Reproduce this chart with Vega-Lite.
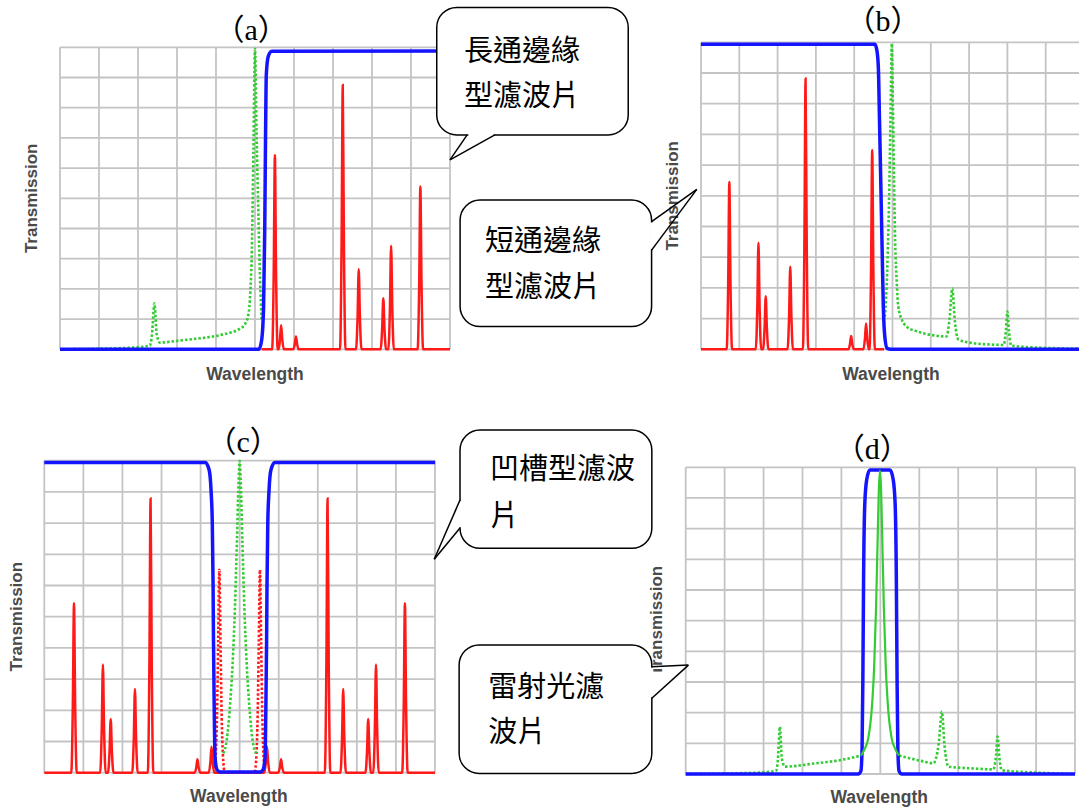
{
  "$schema": "https://vega.github.io/schema/vega-lite/v6.json",
  "width": 1079,
  "height": 810,
  "autosize": {"type": "none"},
  "padding": 0,
  "background": "white",
  "config": {"view": {"stroke": null}, "axis": {"disable": true}},
  "datasets": {
    "grid": [{"v":0},{"v":1},{"v":2},{"v":3},{"v":4},{"v":5},{"v":6},{"v":7},{"v":8},{"v":9},{"v":10}],
    "spectra": [
      {"p":"a","s":"filter","x":0,"y":0},{"p":"a","s":"filter","x":5.1,"y":0},{"p":"a","s":"filter","x":5.17,"y":0.3},{"p":"a","s":"filter","x":5.22,"y":1.4},{"p":"a","s":"filter","x":5.25,"y":4},{"p":"a","s":"filter","x":5.27,"y":7},{"p":"a","s":"filter","x":5.29,"y":9.1},{"p":"a","s":"filter","x":5.34,"y":9.7},{"p":"a","s":"filter","x":5.43,"y":9.87},{"p":"a","s":"filter","x":10,"y":9.88},

      {"p":"a","s":"spectrum","x":0,"y":0},{"p":"a","s":"spectrum","x":1,"y":0.02},{"p":"a","s":"spectrum","x":2,"y":0.07},{"p":"a","s":"spectrum","x":2.3,"y":0.12},{"p":"a","s":"spectrum","x":2.36,"y":0.5},{"p":"a","s":"spectrum","x":2.42,"y":1.52},{"p":"a","s":"spectrum","x":2.48,"y":0.5},{"p":"a","s":"spectrum","x":2.56,"y":0.22},{"p":"a","s":"spectrum","x":3,"y":0.28},{"p":"a","s":"spectrum","x":3.42,"y":0.34},{"p":"a","s":"spectrum","x":4.1,"y":0.47},{"p":"a","s":"spectrum","x":4.62,"y":0.69},{"p":"a","s":"spectrum","x":4.75,"y":0.85},{"p":"a","s":"spectrum","x":4.83,"y":1.14},{"p":"a","s":"spectrum","x":4.88,"y":1.9},{"p":"a","s":"spectrum","x":4.92,"y":3.3},{"p":"a","s":"spectrum","x":4.96,"y":6.6},{"p":"a","s":"spectrum","x":5,"y":9.95},{"p":"a","s":"spectrum","x":5.04,"y":7.2},{"p":"a","s":"spectrum","x":5.09,"y":4.3},{"p":"a","s":"spectrum","x":5.13,"y":2.3},{"p":"a","s":"spectrum","x":5.17,"y":1},

      {"p":"a","s":"raman","x":5.17,"y":0},
      {"p":"a","s":"raman","x":5.44,"y":0},{"p":"a","s":"raman","x":5.48,"y":2.57},{"p":"a","s":"raman","x":5.51,"y":6.43},{"p":"a","s":"raman","x":5.54,"y":2.57},{"p":"a","s":"raman","x":5.58,"y":0},
      {"p":"a","s":"raman","x":5.61,"y":0},{"p":"a","s":"raman","x":5.64,"y":0.32},{"p":"a","s":"raman","x":5.67,"y":0.8},{"p":"a","s":"raman","x":5.7,"y":0.32},{"p":"a","s":"raman","x":5.74,"y":0},
      {"p":"a","s":"raman","x":5.98,"y":0},{"p":"a","s":"raman","x":6.02,"y":0.17},{"p":"a","s":"raman","x":6.05,"y":0.42},{"p":"a","s":"raman","x":6.08,"y":0.17},{"p":"a","s":"raman","x":6.12,"y":0},
      {"p":"a","s":"raman","x":7.18,"y":0},{"p":"a","s":"raman","x":7.22,"y":3.5},{"p":"a","s":"raman","x":7.25,"y":8.75},{"p":"a","s":"raman","x":7.28,"y":3.5},{"p":"a","s":"raman","x":7.32,"y":0},
      {"p":"a","s":"raman","x":7.59,"y":0},{"p":"a","s":"raman","x":7.63,"y":1.06},{"p":"a","s":"raman","x":7.66,"y":2.65},{"p":"a","s":"raman","x":7.69,"y":1.06},{"p":"a","s":"raman","x":7.73,"y":0},
      {"p":"a","s":"raman","x":8.22,"y":0},{"p":"a","s":"raman","x":8.26,"y":0.68},{"p":"a","s":"raman","x":8.29,"y":1.69},{"p":"a","s":"raman","x":8.32,"y":0.68},{"p":"a","s":"raman","x":8.36,"y":0},
      {"p":"a","s":"raman","x":8.42,"y":0},{"p":"a","s":"raman","x":8.46,"y":1.38},{"p":"a","s":"raman","x":8.49,"y":3.43},{"p":"a","s":"raman","x":8.52,"y":1.38},{"p":"a","s":"raman","x":8.56,"y":0},
      {"p":"a","s":"raman","x":9.17,"y":0},{"p":"a","s":"raman","x":9.21,"y":2.16},{"p":"a","s":"raman","x":9.24,"y":5.39},{"p":"a","s":"raman","x":9.27,"y":2.16},{"p":"a","s":"raman","x":9.31,"y":0},
      {"p":"a","s":"raman","x":10,"y":0},

      {"p":"b","s":"filter","x":0,"y":9.94},{"p":"b","s":"filter","x":4.54,"y":9.94},{"p":"b","s":"filter","x":4.59,"y":9.75},{"p":"b","s":"filter","x":4.63,"y":9.2},{"p":"b","s":"filter","x":4.66,"y":7.5},{"p":"b","s":"filter","x":4.69,"y":5.7},{"p":"b","s":"filter","x":4.73,"y":3.2},{"p":"b","s":"filter","x":4.76,"y":1.4},{"p":"b","s":"filter","x":4.8,"y":0.4},{"p":"b","s":"filter","x":4.86,"y":0.03},{"p":"b","s":"filter","x":4.95,"y":0},{"p":"b","s":"filter","x":10,"y":0},

      {"p":"b","s":"spectrum","x":4.8,"y":1.06},{"p":"b","s":"spectrum","x":4.86,"y":2.5},{"p":"b","s":"spectrum","x":4.92,"y":5.5},{"p":"b","s":"spectrum","x":4.96,"y":8.5},{"p":"b","s":"spectrum","x":4.98,"y":9.95},{"p":"b","s":"spectrum","x":5.01,"y":8},{"p":"b","s":"spectrum","x":5.04,"y":5.5},{"p":"b","s":"spectrum","x":5.07,"y":3.5},{"p":"b","s":"spectrum","x":5.11,"y":2.2},{"p":"b","s":"spectrum","x":5.15,"y":1.4},{"p":"b","s":"spectrum","x":5.25,"y":0.95},{"p":"b","s":"spectrum","x":5.37,"y":0.74},{"p":"b","s":"spectrum","x":5.6,"y":0.6},{"p":"b","s":"spectrum","x":5.8,"y":0.52},{"p":"b","s":"spectrum","x":6.1,"y":0.45},{"p":"b","s":"spectrum","x":6.41,"y":0.42},{"p":"b","s":"spectrum","x":6.49,"y":1},{"p":"b","s":"spectrum","x":6.56,"y":1.98},{"p":"b","s":"spectrum","x":6.63,"y":0.9},{"p":"b","s":"spectrum","x":6.72,"y":0.32},{"p":"b","s":"spectrum","x":7.1,"y":0.2},{"p":"b","s":"spectrum","x":7.5,"y":0.16},{"p":"b","s":"spectrum","x":7.9,"y":0.14},{"p":"b","s":"spectrum","x":7.96,"y":0.6},{"p":"b","s":"spectrum","x":8,"y":1.23},{"p":"b","s":"spectrum","x":8.04,"y":0.6},{"p":"b","s":"spectrum","x":8.1,"y":0.12},{"p":"b","s":"spectrum","x":8.9,"y":0.05},{"p":"b","s":"spectrum","x":10,"y":0.02},

      {"p":"b","s":"raman","x":0,"y":0},
      {"p":"b","s":"raman","x":0.67,"y":0},{"p":"b","s":"raman","x":0.71,"y":2.18},{"p":"b","s":"raman","x":0.74,"y":5.45},{"p":"b","s":"raman","x":0.77,"y":2.18},{"p":"b","s":"raman","x":0.81,"y":0},
      {"p":"b","s":"raman","x":1.43,"y":0},{"p":"b","s":"raman","x":1.47,"y":1.39},{"p":"b","s":"raman","x":1.5,"y":3.47},{"p":"b","s":"raman","x":1.53,"y":1.39},{"p":"b","s":"raman","x":1.57,"y":0},
      {"p":"b","s":"raman","x":1.62,"y":0},{"p":"b","s":"raman","x":1.66,"y":0.7},{"p":"b","s":"raman","x":1.69,"y":1.73},{"p":"b","s":"raman","x":1.72,"y":0.7},{"p":"b","s":"raman","x":1.76,"y":0},
      {"p":"b","s":"raman","x":2.26,"y":0},{"p":"b","s":"raman","x":2.3,"y":1.08},{"p":"b","s":"raman","x":2.33,"y":2.69},{"p":"b","s":"raman","x":2.36,"y":1.08},{"p":"b","s":"raman","x":2.4,"y":0},
      {"p":"b","s":"raman","x":2.66,"y":0},{"p":"b","s":"raman","x":2.7,"y":3.53},{"p":"b","s":"raman","x":2.73,"y":8.82},{"p":"b","s":"raman","x":2.76,"y":3.53},{"p":"b","s":"raman","x":2.8,"y":0},
      {"p":"b","s":"raman","x":3.85,"y":0},{"p":"b","s":"raman","x":3.89,"y":0.17},{"p":"b","s":"raman","x":3.92,"y":0.43},{"p":"b","s":"raman","x":3.95,"y":0.17},{"p":"b","s":"raman","x":3.99,"y":0},
      {"p":"b","s":"raman","x":4.24,"y":0},{"p":"b","s":"raman","x":4.28,"y":0.34},{"p":"b","s":"raman","x":4.31,"y":0.84},{"p":"b","s":"raman","x":4.34,"y":0.34},{"p":"b","s":"raman","x":4.38,"y":0},
      {"p":"b","s":"raman","x":4.4,"y":0},{"p":"b","s":"raman","x":4.44,"y":2.6},{"p":"b","s":"raman","x":4.47,"y":6.49},{"p":"b","s":"raman","x":4.5,"y":2.6},{"p":"b","s":"raman","x":4.54,"y":0},
      {"p":"b","s":"raman","x":4.78,"y":0},

      {"p":"c","s":"filter","x":0,"y":9.94},{"p":"c","s":"filter","x":4.12,"y":9.94},{"p":"c","s":"filter","x":4.22,"y":9.7},{"p":"c","s":"filter","x":4.27,"y":9},{"p":"c","s":"filter","x":4.3,"y":8},{"p":"c","s":"filter","x":4.32,"y":6},{"p":"c","s":"filter","x":4.33,"y":4.25},{"p":"c","s":"filter","x":4.35,"y":2},{"p":"c","s":"filter","x":4.37,"y":0.5},{"p":"c","s":"filter","x":4.42,"y":0.1},{"p":"c","s":"filter","x":4.5,"y":0.02},{"p":"c","s":"filter","x":5.52,"y":0.02},{"p":"c","s":"filter","x":5.6,"y":0.1},{"p":"c","s":"filter","x":5.65,"y":0.5},{"p":"c","s":"filter","x":5.67,"y":2},{"p":"c","s":"filter","x":5.69,"y":4.25},{"p":"c","s":"filter","x":5.7,"y":6},{"p":"c","s":"filter","x":5.72,"y":8},{"p":"c","s":"filter","x":5.75,"y":9},{"p":"c","s":"filter","x":5.8,"y":9.7},{"p":"c","s":"filter","x":5.9,"y":9.94},{"p":"c","s":"filter","x":10,"y":9.94},

      {"p":"c","s":"spectrum","x":4.58,"y":0.62},{"p":"c","s":"spectrum","x":4.67,"y":1.05},{"p":"c","s":"spectrum","x":4.75,"y":2.1},{"p":"c","s":"spectrum","x":4.82,"y":3.5},{"p":"c","s":"spectrum","x":4.88,"y":5.3},{"p":"c","s":"spectrum","x":4.93,"y":7.4},{"p":"c","s":"spectrum","x":4.97,"y":9.2},{"p":"c","s":"spectrum","x":5,"y":10},{"p":"c","s":"spectrum","x":5.03,"y":9.2},{"p":"c","s":"spectrum","x":5.07,"y":7.4},{"p":"c","s":"spectrum","x":5.12,"y":5.3},{"p":"c","s":"spectrum","x":5.18,"y":3.5},{"p":"c","s":"spectrum","x":5.25,"y":2.1},{"p":"c","s":"spectrum","x":5.33,"y":1.05},{"p":"c","s":"spectrum","x":5.42,"y":0.62},

      {"p":"c","s":"raman","x":0,"y":0},
      {"p":"c","s":"raman","x":0.69,"y":0},{"p":"c","s":"raman","x":0.73,"y":2.17},{"p":"c","s":"raman","x":0.76,"y":5.43},{"p":"c","s":"raman","x":0.79,"y":2.17},{"p":"c","s":"raman","x":0.83,"y":0},
      {"p":"c","s":"raman","x":1.43,"y":0},{"p":"c","s":"raman","x":1.47,"y":1.39},{"p":"c","s":"raman","x":1.5,"y":3.47},{"p":"c","s":"raman","x":1.53,"y":1.39},{"p":"c","s":"raman","x":1.57,"y":0},
      {"p":"c","s":"raman","x":1.63,"y":0},{"p":"c","s":"raman","x":1.67,"y":0.69},{"p":"c","s":"raman","x":1.7,"y":1.72},{"p":"c","s":"raman","x":1.73,"y":0.69},{"p":"c","s":"raman","x":1.77,"y":0},
      {"p":"c","s":"raman","x":2.25,"y":0},{"p":"c","s":"raman","x":2.29,"y":1.07},{"p":"c","s":"raman","x":2.32,"y":2.68},{"p":"c","s":"raman","x":2.35,"y":1.07},{"p":"c","s":"raman","x":2.39,"y":0},
      {"p":"c","s":"raman","x":2.65,"y":0},{"p":"c","s":"raman","x":2.69,"y":3.52},{"p":"c","s":"raman","x":2.72,"y":8.79},{"p":"c","s":"raman","x":2.75,"y":3.52},{"p":"c","s":"raman","x":2.79,"y":0},
      {"p":"c","s":"raman","x":3.85,"y":0},{"p":"c","s":"raman","x":3.89,"y":0.17},{"p":"c","s":"raman","x":3.92,"y":0.43},{"p":"c","s":"raman","x":3.95,"y":0.17},{"p":"c","s":"raman","x":3.99,"y":0},
      {"p":"c","s":"raman","x":4.21,"y":0},{"p":"c","s":"raman","x":4.25,"y":0.33},{"p":"c","s":"raman","x":4.28,"y":0.83},{"p":"c","s":"raman","x":4.31,"y":0.33},{"p":"c","s":"raman","x":4.35,"y":0},
      {"p":"c","s":"raman","x":5.63,"y":0},{"p":"c","s":"raman","x":5.67,"y":0.33},{"p":"c","s":"raman","x":5.7,"y":0.83},{"p":"c","s":"raman","x":5.73,"y":0.33},{"p":"c","s":"raman","x":5.77,"y":0},
      {"p":"c","s":"raman","x":5.99,"y":0},{"p":"c","s":"raman","x":6.03,"y":0.17},{"p":"c","s":"raman","x":6.06,"y":0.43},{"p":"c","s":"raman","x":6.09,"y":0.17},{"p":"c","s":"raman","x":6.13,"y":0},
      {"p":"c","s":"raman","x":7.18,"y":0},{"p":"c","s":"raman","x":7.22,"y":3.52},{"p":"c","s":"raman","x":7.25,"y":8.79},{"p":"c","s":"raman","x":7.28,"y":3.52},{"p":"c","s":"raman","x":7.32,"y":0},
      {"p":"c","s":"raman","x":7.58,"y":0},{"p":"c","s":"raman","x":7.62,"y":1.07},{"p":"c","s":"raman","x":7.65,"y":2.68},{"p":"c","s":"raman","x":7.68,"y":1.07},{"p":"c","s":"raman","x":7.72,"y":0},
      {"p":"c","s":"raman","x":8.22,"y":0},{"p":"c","s":"raman","x":8.26,"y":0.69},{"p":"c","s":"raman","x":8.29,"y":1.72},{"p":"c","s":"raman","x":8.32,"y":0.69},{"p":"c","s":"raman","x":8.36,"y":0},
      {"p":"c","s":"raman","x":8.42,"y":0},{"p":"c","s":"raman","x":8.46,"y":1.39},{"p":"c","s":"raman","x":8.49,"y":3.47},{"p":"c","s":"raman","x":8.52,"y":1.39},{"p":"c","s":"raman","x":8.56,"y":0},
      {"p":"c","s":"raman","x":9.16,"y":0},{"p":"c","s":"raman","x":9.2,"y":2.17},{"p":"c","s":"raman","x":9.23,"y":5.43},{"p":"c","s":"raman","x":9.26,"y":2.17},{"p":"c","s":"raman","x":9.3,"y":0},
      {"p":"c","s":"raman","x":10,"y":0},

      {"p":"c","s":"raman_blocked","x":4.35,"y":0},{"p":"c","s":"raman_blocked","x":4.39,"y":0.6},{"p":"c","s":"raman_blocked","x":4.42,"y":1.8},{"p":"c","s":"raman_blocked","x":4.45,"y":4.2},{"p":"c","s":"raman_blocked","x":4.48,"y":6.5},{"p":"c","s":"raman_blocked","x":4.51,"y":4.2},{"p":"c","s":"raman_blocked","x":4.54,"y":1.8},{"p":"c","s":"raman_blocked","x":4.57,"y":0.6},{"p":"c","s":"raman_blocked","x":4.62,"y":0},{"p":"c","s":"raman_blocked","x":5.38,"y":0},{"p":"c","s":"raman_blocked","x":5.43,"y":0.6},{"p":"c","s":"raman_blocked","x":5.46,"y":1.8},{"p":"c","s":"raman_blocked","x":5.49,"y":4.2},{"p":"c","s":"raman_blocked","x":5.52,"y":6.5},{"p":"c","s":"raman_blocked","x":5.55,"y":4.2},{"p":"c","s":"raman_blocked","x":5.58,"y":1.8},{"p":"c","s":"raman_blocked","x":5.61,"y":0.6},{"p":"c","s":"raman_blocked","x":5.65,"y":0},

      {"p":"d","s":"filter","x":0,"y":0},{"p":"d","s":"filter","x":4.43,"y":0},{"p":"d","s":"filter","x":4.5,"y":0.1},{"p":"d","s":"filter","x":4.53,"y":0.8},{"p":"d","s":"filter","x":4.55,"y":3},{"p":"d","s":"filter","x":4.57,"y":6.5},{"p":"d","s":"filter","x":4.6,"y":8.8},{"p":"d","s":"filter","x":4.65,"y":9.6},{"p":"d","s":"filter","x":4.73,"y":9.91},{"p":"d","s":"filter","x":5.25,"y":9.91},{"p":"d","s":"filter","x":5.33,"y":9.6},{"p":"d","s":"filter","x":5.38,"y":8.8},{"p":"d","s":"filter","x":5.41,"y":6.5},{"p":"d","s":"filter","x":5.43,"y":3},{"p":"d","s":"filter","x":5.45,"y":0.8},{"p":"d","s":"filter","x":5.48,"y":0.1},{"p":"d","s":"filter","x":5.55,"y":0},{"p":"d","s":"filter","x":10,"y":0},

      {"p":"d","s":"spectrum","x":0,"y":0},{"p":"d","s":"spectrum","x":1.5,"y":0.03},{"p":"d","s":"spectrum","x":2.2,"y":0.08},{"p":"d","s":"spectrum","x":2.33,"y":0.12},{"p":"d","s":"spectrum","x":2.37,"y":0.5},{"p":"d","s":"spectrum","x":2.42,"y":1.54},{"p":"d","s":"spectrum","x":2.47,"y":0.5},{"p":"d","s":"spectrum","x":2.55,"y":0.24},{"p":"d","s":"spectrum","x":3.28,"y":0.34},{"p":"d","s":"spectrum","x":3.96,"y":0.45},{"p":"d","s":"spectrum","x":4.5,"y":0.6},
      {"p":"d","s":"spectrum2","x":5.48,"y":0.6},{"p":"d","s":"spectrum2","x":6.11,"y":0.41},{"p":"d","s":"spectrum2","x":6.36,"y":0.35},{"p":"d","s":"spectrum2","x":6.5,"y":1},{"p":"d","s":"spectrum2","x":6.58,"y":2.03},{"p":"d","s":"spectrum2","x":6.65,"y":0.9},{"p":"d","s":"spectrum2","x":6.75,"y":0.24},{"p":"d","s":"spectrum2","x":7.39,"y":0.18},{"p":"d","s":"spectrum2","x":7.9,"y":0.15},{"p":"d","s":"spectrum2","x":7.97,"y":0.6},{"p":"d","s":"spectrum2","x":8.01,"y":1.22},{"p":"d","s":"spectrum2","x":8.06,"y":0.5},{"p":"d","s":"spectrum2","x":8.12,"y":0.12},{"p":"d","s":"spectrum2","x":9.1,"y":0.04},{"p":"d","s":"spectrum2","x":10,"y":0},

      {"p":"d","s":"laser","x":4.5,"y":0.6},{"p":"d","s":"laser","x":4.59,"y":0.8},{"p":"d","s":"laser","x":4.69,"y":1.17},{"p":"d","s":"laser","x":4.79,"y":2.3},{"p":"d","s":"laser","x":4.84,"y":3.46},{"p":"d","s":"laser","x":4.89,"y":5.42},{"p":"d","s":"laser","x":4.93,"y":7.63},{"p":"d","s":"laser","x":4.96,"y":9.21},{"p":"d","s":"laser","x":4.99,"y":9.9},{"p":"d","s":"laser","x":5.02,"y":9.21},{"p":"d","s":"laser","x":5.05,"y":7.63},{"p":"d","s":"laser","x":5.09,"y":5.42},{"p":"d","s":"laser","x":5.14,"y":3.46},{"p":"d","s":"laser","x":5.19,"y":2.3},{"p":"d","s":"laser","x":5.29,"y":1.17},{"p":"d","s":"laser","x":5.39,"y":0.8},{"p":"d","s":"laser","x":5.48,"y":0.6}
    ]
  },
  "resolve": {"scale": {"x": "independent", "y": "independent"}},
  "layer": [
    {
      "layer": [
        {"data": {"name": "grid"}, "mark": {"type": "rule", "stroke": "#c4c4c4", "strokeWidth": 1.8},
         "encoding": {"x": {"field": "v", "type": "quantitative", "scale": {"domain": [0,10], "range": [60,450], "nice": false, "zero": false}, "axis": null},
                      "y": {"datum": 0, "type": "quantitative", "scale": {"domain": [0,10], "range": [349.3,47.3], "nice": false, "zero": false}, "axis": null},
                      "y2": {"datum": 10}}},
        {"data": {"name": "grid"}, "mark": {"type": "rule", "stroke": "#c4c4c4", "strokeWidth": 1.8},
         "encoding": {"y": {"field": "v", "type": "quantitative", "scale": {"domain": [0,10], "range": [349.3,47.3], "nice": false, "zero": false}, "axis": null},
                      "x": {"datum": 0, "type": "quantitative", "scale": {"domain": [0,10], "range": [60,450], "nice": false, "zero": false}, "axis": null},
                      "x2": {"datum": 10}}},
        {"data": {"name": "spectra"}, "transform": [{"filter": "datum.p === 'a' && datum.s === 'raman'"}],
         "mark": {"type": "line", "color": "#ff1a1a", "strokeWidth": 2.5, "interpolate": "monotone"},
         "encoding": {"x": {"field": "x", "type": "quantitative", "scale": {"domain": [0,10], "range": [60,450], "nice": false, "zero": false}, "axis": null},
                      "y": {"field": "y", "type": "quantitative", "scale": {"domain": [0,10], "range": [349.3,47.3], "nice": false, "zero": false}, "axis": null}}},
        {"data": {"name": "spectra"}, "transform": [{"filter": "datum.p === 'a' && datum.s === 'spectrum'"}],
         "mark": {"type": "line", "color": "#33cc33", "strokeWidth": 2.6, "strokeDash": [2.5, 2], "interpolate": "monotone"},
         "encoding": {"x": {"field": "x", "type": "quantitative", "scale": {"domain": [0,10], "range": [60,450], "nice": false, "zero": false}, "axis": null},
                      "y": {"field": "y", "type": "quantitative", "scale": {"domain": [0,10], "range": [349.3,47.3], "nice": false, "zero": false}, "axis": null}}},
        {"data": {"name": "spectra"}, "transform": [{"filter": "datum.p === 'a' && datum.s === 'filter'"}],
         "mark": {"type": "line", "color": "#1414ff", "strokeWidth": 3.5, "interpolate": "monotone"},
         "encoding": {"x": {"field": "x", "type": "quantitative", "scale": {"domain": [0,10], "range": [60,450], "nice": false, "zero": false}, "axis": null},
                      "y": {"field": "y", "type": "quantitative", "scale": {"domain": [0,10], "range": [349.3,47.3], "nice": false, "zero": false}, "axis": null}}},
        {"data": {"values": [{}]}, "mark": {"type": "text", "text": "（a）", "font": "Liberation Serif, Noto Sans CJK TC", "fontSize": 30, "color": "#000000", "align": "center", "baseline": "middle"},
         "encoding": {"x": {"datum": 4.9, "type": "quantitative", "scale": {"domain": [0,10], "range": [60,450], "nice": false, "zero": false}, "axis": null},
                      "y": {"datum": 10.54, "type": "quantitative", "scale": {"domain": [0,10], "range": [349.3,47.3], "nice": false, "zero": false}, "axis": null}}},
        {"data": {"values": [{}]}, "mark": {"type": "text", "text": "Transmission", "angle": 270, "font": "Liberation Sans", "fontSize": 17, "fontWeight": "bold", "color": "#4a4a4a", "align": "center", "baseline": "middle"},
         "encoding": {"x": {"datum": -0.73, "type": "quantitative", "scale": {"domain": [0,10], "range": [60,450], "nice": false, "zero": false}, "axis": null},
                      "y": {"datum": 5, "type": "quantitative", "scale": {"domain": [0,10], "range": [349.3,47.3], "nice": false, "zero": false}, "axis": null}}},
        {"data": {"values": [{}]}, "mark": {"type": "text", "text": "Wavelength", "font": "Liberation Sans", "fontSize": 17.5, "fontWeight": "bold", "color": "#4a4a4a", "align": "center", "baseline": "middle"},
         "encoding": {"x": {"datum": 5, "type": "quantitative", "scale": {"domain": [0,10], "range": [60,450], "nice": false, "zero": false}, "axis": null},
                      "y": {"datum": -0.85, "type": "quantitative", "scale": {"domain": [0,10], "range": [349.3,47.3], "nice": false, "zero": false}, "axis": null}}},
        {"data": {"values": [{}]}, "mark": {"type": "rect", "fill": "white", "stroke": "black", "strokeWidth": 1.5, "cornerRadius": 20},
         "encoding": {"x": {"datum": 9.66, "type": "quantitative", "scale": {"domain": [0,10], "range": [60,450], "nice": false, "zero": false}, "axis": null}, "x2": {"datum": 14.57},
                      "y": {"datum": 11.32, "type": "quantitative", "scale": {"domain": [0,10], "range": [349.3,47.3], "nice": false, "zero": false}, "axis": null}, "y2": {"datum": 7.1}}},
        {"data": {"values": [{}]}, "mark": {"type": "rule", "stroke": "white", "strokeWidth": 3},
         "encoding": {"x": {"datum": 10.47, "type": "quantitative", "scale": {"domain": [0,10], "range": [60,450], "nice": false, "zero": false}, "axis": null}, "x2": {"datum": 11.12},
                      "y": {"datum": 7.1, "type": "quantitative", "scale": {"domain": [0,10], "range": [349.3,47.3], "nice": false, "zero": false}, "axis": null}, "y2": {"datum": 7.1}}},
        {"data": {"values": [{}]}, "mark": {"type": "rule", "stroke": "black", "strokeWidth": 1.5},
         "encoding": {"x": {"datum": 10.0, "type": "quantitative", "scale": {"domain": [0,10], "range": [60,450], "nice": false, "zero": false}, "axis": null}, "x2": {"datum": 10.44},
                      "y": {"datum": 6.27, "type": "quantitative", "scale": {"domain": [0,10], "range": [349.3,47.3], "nice": false, "zero": false}, "axis": null}, "y2": {"datum": 7.1}}},
        {"data": {"values": [{}]}, "mark": {"type": "rule", "stroke": "black", "strokeWidth": 1.5},
         "encoding": {"x": {"datum": 10.0, "type": "quantitative", "scale": {"domain": [0,10], "range": [60,450], "nice": false, "zero": false}, "axis": null}, "x2": {"datum": 11.15},
                      "y": {"datum": 6.27, "type": "quantitative", "scale": {"domain": [0,10], "range": [349.3,47.3], "nice": false, "zero": false}, "axis": null}, "y2": {"datum": 7.1}}},
        {"data": {"values": [{}]}, "mark": {"type": "text", "text": "長通邊緣", "font": "Noto Sans CJK TC", "fontSize": 29, "color": "black", "align": "left", "baseline": "middle"},
         "encoding": {"x": {"datum": 10.36, "type": "quantitative", "scale": {"domain": [0,10], "range": [60,450], "nice": false, "zero": false}, "axis": null},
                      "y": {"datum": 9.85, "type": "quantitative", "scale": {"domain": [0,10], "range": [349.3,47.3], "nice": false, "zero": false}, "axis": null}}},
        {"data": {"values": [{}]}, "mark": {"type": "text", "text": "型濾波片", "font": "Noto Sans CJK TC", "fontSize": 29, "color": "black", "align": "left", "baseline": "middle"},
         "encoding": {"x": {"datum": 10.36, "type": "quantitative", "scale": {"domain": [0,10], "range": [60,450], "nice": false, "zero": false}, "axis": null},
                      "y": {"datum": 8.36, "type": "quantitative", "scale": {"domain": [0,10], "range": [349.3,47.3], "nice": false, "zero": false}, "axis": null}}}
      ]
    },
    {
      "layer": [
        {"data": {"name": "grid"}, "mark": {"type": "rule", "stroke": "#c4c4c4", "strokeWidth": 1.8},
         "encoding": {"x": {"field": "v", "type": "quantitative", "scale": {"domain": [0,10], "range": [701,1084], "nice": false, "zero": false}, "axis": null},
                      "y": {"datum": 0, "type": "quantitative", "scale": {"domain": [0,10], "range": [349.3,42.3], "nice": false, "zero": false}, "axis": null},
                      "y2": {"datum": 10}}},
        {"data": {"name": "grid"}, "mark": {"type": "rule", "stroke": "#c4c4c4", "strokeWidth": 1.8},
         "encoding": {"y": {"field": "v", "type": "quantitative", "scale": {"domain": [0,10], "range": [349.3,42.3], "nice": false, "zero": false}, "axis": null},
                      "x": {"datum": 0, "type": "quantitative", "scale": {"domain": [0,10], "range": [701,1084], "nice": false, "zero": false}, "axis": null},
                      "x2": {"datum": 10}}},
        {"data": {"name": "spectra"}, "transform": [{"filter": "datum.p === 'b' && datum.s === 'raman'"}],
         "mark": {"type": "line", "color": "#ff1a1a", "strokeWidth": 2.5, "interpolate": "monotone"},
         "encoding": {"x": {"field": "x", "type": "quantitative", "scale": {"domain": [0,10], "range": [701,1084], "nice": false, "zero": false}, "axis": null},
                      "y": {"field": "y", "type": "quantitative", "scale": {"domain": [0,10], "range": [349.3,42.3], "nice": false, "zero": false}, "axis": null}}},
        {"data": {"name": "spectra"}, "transform": [{"filter": "datum.p === 'b' && datum.s === 'spectrum'"}],
         "mark": {"type": "line", "color": "#33cc33", "strokeWidth": 2.6, "strokeDash": [2.5, 2], "interpolate": "monotone"},
         "encoding": {"x": {"field": "x", "type": "quantitative", "scale": {"domain": [0,10], "range": [701,1084], "nice": false, "zero": false}, "axis": null},
                      "y": {"field": "y", "type": "quantitative", "scale": {"domain": [0,10], "range": [349.3,42.3], "nice": false, "zero": false}, "axis": null}}},
        {"data": {"name": "spectra"}, "transform": [{"filter": "datum.p === 'b' && datum.s === 'filter'"}],
         "mark": {"type": "line", "color": "#1414ff", "strokeWidth": 3.5, "interpolate": "monotone"},
         "encoding": {"x": {"field": "x", "type": "quantitative", "scale": {"domain": [0,10], "range": [701,1084], "nice": false, "zero": false}, "axis": null},
                      "y": {"field": "y", "type": "quantitative", "scale": {"domain": [0,10], "range": [349.3,42.3], "nice": false, "zero": false}, "axis": null}}},
        {"data": {"values": [{}]}, "mark": {"type": "text", "text": "（b）", "font": "Liberation Serif, Noto Sans CJK TC", "fontSize": 30, "color": "#000000", "align": "center", "baseline": "middle"},
         "encoding": {"x": {"datum": 4.75, "type": "quantitative", "scale": {"domain": [0,10], "range": [701,1084], "nice": false, "zero": false}, "axis": null},
                      "y": {"datum": 10.66, "type": "quantitative", "scale": {"domain": [0,10], "range": [349.3,42.3], "nice": false, "zero": false}, "axis": null}}},
        {"data": {"values": [{}]}, "mark": {"type": "text", "text": "Transmission", "angle": 270, "font": "Liberation Sans", "fontSize": 17, "fontWeight": "bold", "color": "#4a4a4a", "align": "center", "baseline": "middle"},
         "encoding": {"x": {"datum": -0.72, "type": "quantitative", "scale": {"domain": [0,10], "range": [701,1084], "nice": false, "zero": false}, "axis": null},
                      "y": {"datum": 5, "type": "quantitative", "scale": {"domain": [0,10], "range": [349.3,42.3], "nice": false, "zero": false}, "axis": null}}},
        {"data": {"values": [{}]}, "mark": {"type": "text", "text": "Wavelength", "font": "Liberation Sans", "fontSize": 17.5, "fontWeight": "bold", "color": "#4a4a4a", "align": "center", "baseline": "middle"},
         "encoding": {"x": {"datum": 4.96, "type": "quantitative", "scale": {"domain": [0,10], "range": [701,1084], "nice": false, "zero": false}, "axis": null},
                      "y": {"datum": -0.84, "type": "quantitative", "scale": {"domain": [0,10], "range": [349.3,42.3], "nice": false, "zero": false}, "axis": null}}},
        {"data": {"values": [{}]}, "mark": {"type": "rect", "fill": "white", "stroke": "black", "strokeWidth": 1.5, "cornerRadius": 20},
         "encoding": {"x": {"datum": -6.29, "type": "quantitative", "scale": {"domain": [0,10], "range": [701,1084], "nice": false, "zero": false}, "axis": null}, "x2": {"datum": -1.29},
                      "y": {"datum": 4.86, "type": "quantitative", "scale": {"domain": [0,10], "range": [349.3,42.3], "nice": false, "zero": false}, "axis": null}, "y2": {"datum": 0.74}}},
        {"data": {"values": [{}]}, "mark": {"type": "rule", "stroke": "white", "strokeWidth": 3},
         "encoding": {"x": {"datum": -1.29, "type": "quantitative", "scale": {"domain": [0,10], "range": [701,1084], "nice": false, "zero": false}, "axis": null}, "x2": {"datum": -1.29},
                      "y": {"datum": 4.13, "type": "quantitative", "scale": {"domain": [0,10], "range": [349.3,42.3], "nice": false, "zero": false}, "axis": null}, "y2": {"datum": 3.26}}},
        {"data": {"values": [{}]}, "mark": {"type": "rule", "stroke": "black", "strokeWidth": 1.5},
         "encoding": {"x": {"datum": -0.11, "type": "quantitative", "scale": {"domain": [0,10], "range": [701,1084], "nice": false, "zero": false}, "axis": null}, "x2": {"datum": -1.29},
                      "y": {"datum": 5.21, "type": "quantitative", "scale": {"domain": [0,10], "range": [349.3,42.3], "nice": false, "zero": false}, "axis": null}, "y2": {"datum": 4.16}}},
        {"data": {"values": [{}]}, "mark": {"type": "rule", "stroke": "black", "strokeWidth": 1.5},
         "encoding": {"x": {"datum": -0.11, "type": "quantitative", "scale": {"domain": [0,10], "range": [701,1084], "nice": false, "zero": false}, "axis": null}, "x2": {"datum": -1.29},
                      "y": {"datum": 5.21, "type": "quantitative", "scale": {"domain": [0,10], "range": [349.3,42.3], "nice": false, "zero": false}, "axis": null}, "y2": {"datum": 3.23}}},
        {"data": {"values": [{}]}, "mark": {"type": "text", "text": "短通邊緣", "font": "Noto Sans CJK TC", "fontSize": 29, "color": "black", "align": "left", "baseline": "middle"},
         "encoding": {"x": {"datum": -5.64, "type": "quantitative", "scale": {"domain": [0,10], "range": [701,1084], "nice": false, "zero": false}, "axis": null},
                      "y": {"datum": 3.5, "type": "quantitative", "scale": {"domain": [0,10], "range": [349.3,42.3], "nice": false, "zero": false}, "axis": null}}},
        {"data": {"values": [{}]}, "mark": {"type": "text", "text": "型濾波片", "font": "Noto Sans CJK TC", "fontSize": 29, "color": "black", "align": "left", "baseline": "middle"},
         "encoding": {"x": {"datum": -5.64, "type": "quantitative", "scale": {"domain": [0,10], "range": [701,1084], "nice": false, "zero": false}, "axis": null},
                      "y": {"datum": 1.99, "type": "quantitative", "scale": {"domain": [0,10], "range": [349.3,42.3], "nice": false, "zero": false}, "axis": null}}}
      ]
    },
    {
      "layer": [
        {"data": {"name": "grid"}, "mark": {"type": "rule", "stroke": "#c4c4c4", "strokeWidth": 1.8},
         "encoding": {"x": {"field": "v", "type": "quantitative", "scale": {"domain": [0,10], "range": [44.3,435], "nice": false, "zero": false}, "axis": null},
                      "y": {"datum": 0, "type": "quantitative", "scale": {"domain": [0,10], "range": [772.7,460.7], "nice": false, "zero": false}, "axis": null},
                      "y2": {"datum": 10}}},
        {"data": {"name": "grid"}, "mark": {"type": "rule", "stroke": "#c4c4c4", "strokeWidth": 1.8},
         "encoding": {"y": {"field": "v", "type": "quantitative", "scale": {"domain": [0,10], "range": [772.7,460.7], "nice": false, "zero": false}, "axis": null},
                      "x": {"datum": 0, "type": "quantitative", "scale": {"domain": [0,10], "range": [44.3,435], "nice": false, "zero": false}, "axis": null},
                      "x2": {"datum": 10}}},
        {"data": {"name": "spectra"}, "transform": [{"filter": "datum.p === 'c' && datum.s === 'raman'"}],
         "mark": {"type": "line", "color": "#ff1a1a", "strokeWidth": 2.5, "interpolate": "monotone"},
         "encoding": {"x": {"field": "x", "type": "quantitative", "scale": {"domain": [0,10], "range": [44.3,435], "nice": false, "zero": false}, "axis": null},
                      "y": {"field": "y", "type": "quantitative", "scale": {"domain": [0,10], "range": [772.7,460.7], "nice": false, "zero": false}, "axis": null}}},
        {"data": {"name": "spectra"}, "transform": [{"filter": "datum.p === 'c' && datum.s === 'raman_blocked'"}],
         "mark": {"type": "line", "color": "#ff1a1a", "strokeWidth": 2.6, "strokeDash": [2.5, 2], "interpolate": "monotone"},
         "encoding": {"x": {"field": "x", "type": "quantitative", "scale": {"domain": [0,10], "range": [44.3,435], "nice": false, "zero": false}, "axis": null},
                      "y": {"field": "y", "type": "quantitative", "scale": {"domain": [0,10], "range": [772.7,460.7], "nice": false, "zero": false}, "axis": null}}},
        {"data": {"name": "spectra"}, "transform": [{"filter": "datum.p === 'c' && datum.s === 'spectrum'"}],
         "mark": {"type": "line", "color": "#33cc33", "strokeWidth": 2.6, "strokeDash": [2.5, 2], "interpolate": "monotone"},
         "encoding": {"x": {"field": "x", "type": "quantitative", "scale": {"domain": [0,10], "range": [44.3,435], "nice": false, "zero": false}, "axis": null},
                      "y": {"field": "y", "type": "quantitative", "scale": {"domain": [0,10], "range": [772.7,460.7], "nice": false, "zero": false}, "axis": null}}},
        {"data": {"name": "spectra"}, "transform": [{"filter": "datum.p === 'c' && datum.s === 'filter'"}],
         "mark": {"type": "line", "color": "#1414ff", "strokeWidth": 3.5, "interpolate": "monotone"},
         "encoding": {"x": {"field": "x", "type": "quantitative", "scale": {"domain": [0,10], "range": [44.3,435], "nice": false, "zero": false}, "axis": null},
                      "y": {"field": "y", "type": "quantitative", "scale": {"domain": [0,10], "range": [772.7,460.7], "nice": false, "zero": false}, "axis": null}}},
        {"data": {"values": [{}]}, "mark": {"type": "text", "text": "（c）", "font": "Liberation Serif, Noto Sans CJK TC", "fontSize": 30, "color": "#000000", "align": "center", "baseline": "middle"},
         "encoding": {"x": {"datum": 5.09, "type": "quantitative", "scale": {"domain": [0,10], "range": [44.3,435], "nice": false, "zero": false}, "axis": null},
                      "y": {"datum": 10.57, "type": "quantitative", "scale": {"domain": [0,10], "range": [772.7,460.7], "nice": false, "zero": false}, "axis": null}}},
        {"data": {"values": [{}]}, "mark": {"type": "text", "text": "Transmission", "angle": 270, "font": "Liberation Sans", "fontSize": 17, "fontWeight": "bold", "color": "#4a4a4a", "align": "center", "baseline": "middle"},
         "encoding": {"x": {"datum": -0.71, "type": "quantitative", "scale": {"domain": [0,10], "range": [44.3,435], "nice": false, "zero": false}, "axis": null},
                      "y": {"datum": 5, "type": "quantitative", "scale": {"domain": [0,10], "range": [772.7,460.7], "nice": false, "zero": false}, "axis": null}}},
        {"data": {"values": [{}]}, "mark": {"type": "text", "text": "Wavelength", "font": "Liberation Sans", "fontSize": 17.5, "fontWeight": "bold", "color": "#4a4a4a", "align": "center", "baseline": "middle"},
         "encoding": {"x": {"datum": 4.98, "type": "quantitative", "scale": {"domain": [0,10], "range": [44.3,435], "nice": false, "zero": false}, "axis": null},
                      "y": {"datum": -0.78, "type": "quantitative", "scale": {"domain": [0,10], "range": [772.7,460.7], "nice": false, "zero": false}, "axis": null}}},
        {"data": {"values": [{}]}, "mark": {"type": "rect", "fill": "white", "stroke": "black", "strokeWidth": 1.5, "cornerRadius": 20},
         "encoding": {"x": {"datum": 10.64, "type": "quantitative", "scale": {"domain": [0,10], "range": [44.3,435], "nice": false, "zero": false}, "axis": null}, "x2": {"datum": 15.55},
                      "y": {"datum": 10.98, "type": "quantitative", "scale": {"domain": [0,10], "range": [772.7,460.7], "nice": false, "zero": false}, "axis": null}, "y2": {"datum": 7.19}}},
        {"data": {"values": [{}]}, "mark": {"type": "rule", "stroke": "white", "strokeWidth": 3},
         "encoding": {"x": {"datum": 10.64, "type": "quantitative", "scale": {"domain": [0,10], "range": [44.3,435], "nice": false, "zero": false}, "axis": null}, "x2": {"datum": 10.64},
                      "y": {"datum": 8.71, "type": "quantitative", "scale": {"domain": [0,10], "range": [772.7,460.7], "nice": false, "zero": false}, "axis": null}, "y2": {"datum": 7.87}}},
        {"data": {"values": [{}]}, "mark": {"type": "rule", "stroke": "black", "strokeWidth": 1.5},
         "encoding": {"x": {"datum": 9.98, "type": "quantitative", "scale": {"domain": [0,10], "range": [44.3,435], "nice": false, "zero": false}, "axis": null}, "x2": {"datum": 10.64},
                      "y": {"datum": 6.84, "type": "quantitative", "scale": {"domain": [0,10], "range": [772.7,460.7], "nice": false, "zero": false}, "axis": null}, "y2": {"datum": 8.74}}},
        {"data": {"values": [{}]}, "mark": {"type": "rule", "stroke": "black", "strokeWidth": 1.5},
         "encoding": {"x": {"datum": 9.98, "type": "quantitative", "scale": {"domain": [0,10], "range": [44.3,435], "nice": false, "zero": false}, "axis": null}, "x2": {"datum": 10.64},
                      "y": {"datum": 6.84, "type": "quantitative", "scale": {"domain": [0,10], "range": [772.7,460.7], "nice": false, "zero": false}, "axis": null}, "y2": {"datum": 7.84}}},
        {"data": {"values": [{}]}, "mark": {"type": "text", "text": "凹槽型濾波", "font": "Noto Sans CJK TC", "fontSize": 29, "color": "black", "align": "left", "baseline": "middle"},
         "encoding": {"x": {"datum": 11.41, "type": "quantitative", "scale": {"domain": [0,10], "range": [44.3,435], "nice": false, "zero": false}, "axis": null},
                      "y": {"datum": 9.7, "type": "quantitative", "scale": {"domain": [0,10], "range": [772.7,460.7], "nice": false, "zero": false}, "axis": null}}},
        {"data": {"values": [{}]}, "mark": {"type": "text", "text": "片", "font": "Noto Sans CJK TC", "fontSize": 29, "color": "black", "align": "left", "baseline": "middle"},
         "encoding": {"x": {"datum": 11.41, "type": "quantitative", "scale": {"domain": [0,10], "range": [44.3,435], "nice": false, "zero": false}, "axis": null},
                      "y": {"datum": 8.21, "type": "quantitative", "scale": {"domain": [0,10], "range": [772.7,460.7], "nice": false, "zero": false}, "axis": null}}}
      ]
    },
    {
      "layer": [
        {"data": {"name": "grid"}, "mark": {"type": "rule", "stroke": "#c4c4c4", "strokeWidth": 1.8},
         "encoding": {"x": {"field": "v", "type": "quantitative", "scale": {"domain": [0,10], "range": [685.7,1075], "nice": false, "zero": false}, "axis": null},
                      "y": {"datum": 0, "type": "quantitative", "scale": {"domain": [0,10], "range": [774,467.3], "nice": false, "zero": false}, "axis": null},
                      "y2": {"datum": 10}}},
        {"data": {"name": "grid"}, "mark": {"type": "rule", "stroke": "#c4c4c4", "strokeWidth": 1.8},
         "encoding": {"y": {"field": "v", "type": "quantitative", "scale": {"domain": [0,10], "range": [774,467.3], "nice": false, "zero": false}, "axis": null},
                      "x": {"datum": 0, "type": "quantitative", "scale": {"domain": [0,10], "range": [685.7,1075], "nice": false, "zero": false}, "axis": null},
                      "x2": {"datum": 10}}},
        {"data": {"name": "spectra"}, "transform": [{"filter": "datum.p === 'd' && (datum.s === 'spectrum' || datum.s === 'spectrum2')"}],
         "mark": {"type": "line", "color": "#33cc33", "strokeWidth": 2.6, "strokeDash": [2.5, 2], "interpolate": "monotone"},
         "encoding": {"x": {"field": "x", "type": "quantitative", "scale": {"domain": [0,10], "range": [685.7,1075], "nice": false, "zero": false}, "axis": null},
                      "y": {"field": "y", "type": "quantitative", "scale": {"domain": [0,10], "range": [774,467.3], "nice": false, "zero": false}, "axis": null},
                      "detail": {"field": "s"}}},
        {"data": {"name": "spectra"}, "transform": [{"filter": "datum.p === 'd' && datum.s === 'filter'"}],
         "mark": {"type": "line", "color": "#1414ff", "strokeWidth": 3.5, "interpolate": "monotone"},
         "encoding": {"x": {"field": "x", "type": "quantitative", "scale": {"domain": [0,10], "range": [685.7,1075], "nice": false, "zero": false}, "axis": null},
                      "y": {"field": "y", "type": "quantitative", "scale": {"domain": [0,10], "range": [774,467.3], "nice": false, "zero": false}, "axis": null}}},
        {"data": {"name": "spectra"}, "transform": [{"filter": "datum.p === 'd' && datum.s === 'laser'"}],
         "mark": {"type": "line", "color": "#33cc33", "strokeWidth": 2.2, "interpolate": "monotone"},
         "encoding": {"x": {"field": "x", "type": "quantitative", "scale": {"domain": [0,10], "range": [685.7,1075], "nice": false, "zero": false}, "axis": null},
                      "y": {"field": "y", "type": "quantitative", "scale": {"domain": [0,10], "range": [774,467.3], "nice": false, "zero": false}, "axis": null}}},
        {"data": {"values": [{}]}, "mark": {"type": "text", "text": "（d）", "font": "Liberation Serif, Noto Sans CJK TC", "fontSize": 30, "color": "#000000", "align": "center", "baseline": "middle"},
         "encoding": {"x": {"datum": 4.79, "type": "quantitative", "scale": {"domain": [0,10], "range": [685.7,1075], "nice": false, "zero": false}, "axis": null},
                      "y": {"datum": 10.56, "type": "quantitative", "scale": {"domain": [0,10], "range": [774,467.3], "nice": false, "zero": false}, "axis": null}}},
        {"data": {"values": [{}]}, "mark": {"type": "text", "text": "Transmission", "angle": 270, "font": "Liberation Sans", "fontSize": 17, "fontWeight": "bold", "color": "#4a4a4a", "align": "center", "baseline": "middle"},
         "encoding": {"x": {"datum": -0.74, "type": "quantitative", "scale": {"domain": [0,10], "range": [685.7,1075], "nice": false, "zero": false}, "axis": null},
                      "y": {"datum": 5, "type": "quantitative", "scale": {"domain": [0,10], "range": [774,467.3], "nice": false, "zero": false}, "axis": null}}},
        {"data": {"values": [{}]}, "mark": {"type": "text", "text": "Wavelength", "font": "Liberation Sans", "fontSize": 17.5, "fontWeight": "bold", "color": "#4a4a4a", "align": "center", "baseline": "middle"},
         "encoding": {"x": {"datum": 4.97, "type": "quantitative", "scale": {"domain": [0,10], "range": [685.7,1075], "nice": false, "zero": false}, "axis": null},
                      "y": {"datum": -0.77, "type": "quantitative", "scale": {"domain": [0,10], "range": [774,467.3], "nice": false, "zero": false}, "axis": null}}},
        {"data": {"values": [{}]}, "mark": {"type": "rect", "fill": "white", "stroke": "black", "strokeWidth": 1.5, "cornerRadius": 20},
         "encoding": {"x": {"datum": -5.82, "type": "quantitative", "scale": {"domain": [0,10], "range": [685.7,1075], "nice": false, "zero": false}, "axis": null}, "x2": {"datum": -0.87},
                      "y": {"datum": 4.21, "type": "quantitative", "scale": {"domain": [0,10], "range": [774,467.3], "nice": false, "zero": false}, "axis": null}, "y2": {"datum": 0.02}}},
        {"data": {"values": [{}]}, "mark": {"type": "rule", "stroke": "white", "strokeWidth": 3},
         "encoding": {"x": {"datum": -0.87, "type": "quantitative", "scale": {"domain": [0,10], "range": [685.7,1075], "nice": false, "zero": false}, "axis": null}, "x2": {"datum": -0.87},
                      "y": {"datum": 3.47, "type": "quantitative", "scale": {"domain": [0,10], "range": [774,467.3], "nice": false, "zero": false}, "axis": null}, "y2": {"datum": 2.5}}},
        {"data": {"values": [{}]}, "mark": {"type": "rule", "stroke": "black", "strokeWidth": 1.5},
         "encoding": {"x": {"datum": 0.07, "type": "quantitative", "scale": {"domain": [0,10], "range": [685.7,1075], "nice": false, "zero": false}, "axis": null}, "x2": {"datum": -0.87},
                      "y": {"datum": 3.55, "type": "quantitative", "scale": {"domain": [0,10], "range": [774,467.3], "nice": false, "zero": false}, "axis": null}, "y2": {"datum": 3.5}}},
        {"data": {"values": [{}]}, "mark": {"type": "rule", "stroke": "black", "strokeWidth": 1.5},
         "encoding": {"x": {"datum": 0.07, "type": "quantitative", "scale": {"domain": [0,10], "range": [685.7,1075], "nice": false, "zero": false}, "axis": null}, "x2": {"datum": -0.87},
                      "y": {"datum": 3.55, "type": "quantitative", "scale": {"domain": [0,10], "range": [774,467.3], "nice": false, "zero": false}, "axis": null}, "y2": {"datum": 2.47}}},
        {"data": {"values": [{}]}, "mark": {"type": "text", "text": "雷射光濾", "font": "Noto Sans CJK TC", "fontSize": 29, "color": "black", "align": "left", "baseline": "middle"},
         "encoding": {"x": {"datum": -5.07, "type": "quantitative", "scale": {"domain": [0,10], "range": [685.7,1075], "nice": false, "zero": false}, "axis": null},
                      "y": {"datum": 2.79, "type": "quantitative", "scale": {"domain": [0,10], "range": [774,467.3], "nice": false, "zero": false}, "axis": null}}},
        {"data": {"values": [{}]}, "mark": {"type": "text", "text": "波片", "font": "Noto Sans CJK TC", "fontSize": 29, "color": "black", "align": "left", "baseline": "middle"},
         "encoding": {"x": {"datum": -5.07, "type": "quantitative", "scale": {"domain": [0,10], "range": [685.7,1075], "nice": false, "zero": false}, "axis": null},
                      "y": {"datum": 1.33, "type": "quantitative", "scale": {"domain": [0,10], "range": [774,467.3], "nice": false, "zero": false}, "axis": null}}}
      ]
    }
  ]
}
